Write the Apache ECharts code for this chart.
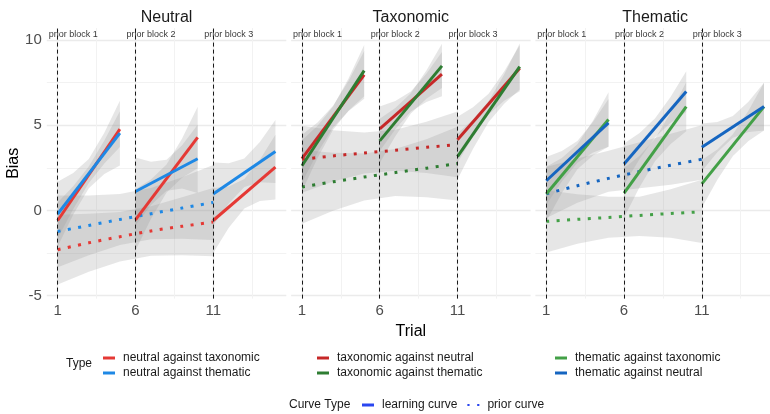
<!DOCTYPE html>
<html>
<head>
<meta charset="utf-8">
<script src="https://cdn.jsdelivr.net/npm/echarts@6/dist/echarts.min.js"></script>
<style>
  html, body { margin: 0; padding: 0; background: #ffffff; }
  #chart { width: 770px; height: 414px; }
</style>
</head>
<body>
<div id="chart"></div>
<script>
// ---- data -------------------------------------------------------------
const PANELS = ['Neutral', 'Taxonomic', 'Thematic'];
const TYPES = [
  'neutral against taxonomic', 'neutral against thematic',
  'taxonomic against neutral', 'taxonomic against thematic',
  'thematic against taxonomic', 'thematic against neutral'
];
const TYPE_PANEL = [0, 0, 1, 1, 2, 2];
const CURVE_TYPES = ['learning curve', 'prior curve'];

const BLOCK_TRIALS = [[1, 2, 3, 4, 5], [6, 7, 8, 9, 10], [11, 12, 13, 14, 15]];
const PRIOR_TRIALS = [1, 3, 5, 7, 9, 11];
const BLOCK_STARTS = [1, 6, 11];
const BLOCK_LABELS = ['prior block 1', 'prior block 2', 'prior block 3'];
const BLOCK_LABEL_POS = [[2, 10.33], [7, 10.33], [12, 10.33]];

const X_BREAKS = [1, 6, 11];
const X_MINOR = [3.5, 8.5, 13.5];
const Y_BREAKS = [-5, 0, 5, 10];
const Y_MINOR = [-2.5, 2.5, 7.5];

// learning-curve fits: [first trial, last trial] of each block
const fitNTax = [[-0.59, 4.77], [-0.55, 4.28], [-0.59, 2.54]];
const fitNThe = [[-0.21, 4.53], [1.11, 3.03], [0.96, 3.46]];
const fitTNeu = [[3.04, 7.95], [4.79, 7.99], [4.14, 8.34]];
const fitTThe = [[2.62, 8.20], [4.08, 8.48], [3.16, 8.44]];
const fitHTax = [[0.96, 5.33], [1.02, 6.09], [1.56, 6.09]];
const fitHNeu = [[1.74, 5.14], [2.72, 6.97], [3.70, 6.09]];

// confidence bands of the learning fits, per trial of each block
const bandNTaxLo = [[-1.64, 0.08, 1.61, 2.76, 3.72], [-2.35, -0.49, 1.05, 1.92, 2.48], [-2.49, -1.02, 0.12, 0.55, 0.64]];
const bandNTaxHi = [[0.46, 1.42, 2.57, 4.10, 5.82], [1.25, 1.81, 2.69, 4.22, 6.08], [1.31, 1.40, 1.84, 2.97, 4.44]];
const bandNTheLo = [[-2.11, -0.24, 1.30, 2.14, 2.63], [-0.89, 0.32, 1.16, 1.28, 1.03], [-0.89, 0.41, 1.37, 1.66, 1.61]];
const bandNTheHi = [[1.69, 2.19, 3.02, 4.56, 6.43], [3.11, 2.86, 2.98, 3.82, 5.03], [2.81, 2.77, 3.05, 4.02, 5.31]];
const bandTNeuLo = [[1.64, 3.38, 4.86, 5.83, 6.55], [3.49, 4.76, 5.80, 6.36, 6.69], [2.79, 4.33, 5.63, 6.43, 6.99]];
const bandTNeuHi = [[4.44, 5.16, 6.14, 7.61, 9.35], [6.09, 6.42, 6.98, 8.02, 9.29], [5.49, 6.05, 6.85, 8.15, 9.69]];
const bandTTheLo = [[1.12, 3.07, 4.73, 5.86, 6.70], [2.78, 4.35, 5.69, 6.55, 7.18], [1.81, 3.62, 5.19, 6.26, 7.09]];
const bandTTheHi = [[4.12, 4.97, 6.09, 7.76, 9.70], [5.38, 6.01, 6.87, 8.21, 9.78], [4.51, 5.34, 6.41, 7.98, 9.79]];
const bandHTaxLo = [[-0.64, 1.03, 2.42, 3.22, 3.73], [-0.43, 1.37, 2.90, 3.90, 4.64], [0.16, 1.80, 3.19, 4.07, 4.69]];
const bandHTaxHi = [[2.56, 3.07, 3.88, 5.26, 6.93], [2.47, 3.21, 4.22, 5.74, 7.54], [2.96, 3.58, 4.47, 5.85, 7.49]];
const bandHNeuLo = [[0.34, 1.70, 2.80, 3.40, 3.74], [1.52, 3.02, 4.30, 5.15, 5.77], [2.30, 3.41, 4.26, 4.60, 4.69]];
const bandHNeuHi = [[3.14, 3.48, 4.08, 5.18, 6.54], [3.92, 4.54, 5.40, 6.67, 8.17], [5.10, 5.19, 5.54, 6.38, 7.49]];

// prior curves with their bands, at PRIOR_TRIALS
const priorNTax = [-2.30, -1.90, -1.54, -1.20, -0.93, -0.68];
const priorNTaxLo = [-4.35, -3.60, -2.99, -2.65, -2.63, -2.68];
const priorNTaxHi = [-0.25, -0.20, -0.09, 0.25, 0.77, 1.32];
const priorNThe = [-1.23, -0.88, -0.53, -0.19, 0.14, 0.47];
const priorNTheLo = [-3.33, -2.63, -2.03, -1.69, -1.66, -1.73];
const priorNTheHi = [0.87, 0.87, 0.97, 1.31, 1.94, 2.67];
const priorTNeu = [3.00, 3.20, 3.37, 3.53, 3.70, 3.87];
const priorTNeuLo = [1.04, 1.70, 2.17, 2.33, 2.20, 1.94];
const priorTNeuHi = [4.96, 4.70, 4.57, 4.73, 5.20, 5.80];
const priorTThe = [1.38, 1.68, 1.96, 2.22, 2.48, 2.75];
const priorTTheLo = [-0.78, -0.02, 0.58, 0.84, 0.78, 0.59];
const priorTTheHi = [3.54, 3.38, 3.34, 3.60, 4.18, 4.91];
const priorHTax = [-0.64, -0.52, -0.41, -0.29, -0.18, -0.08];
const priorHTaxLo = [-2.46, -1.95, -1.60, -1.50, -1.60, -1.91];
const priorHTaxHi = [1.18, 0.95, 0.80, 0.80, 1.25, 1.80];
const priorHNeu = [0.98, 1.45, 1.88, 2.28, 2.65, 3.00];
const priorHNeuLo = [-0.45, 0.45, 1.10, 1.30, 1.50, 1.80];
const priorHNeuHi = [2.55, 3.05, 3.50, 4.00, 4.50, 5.00];

// ---- styling ----------------------------------------------------------
const TYPE_COLORS = ['#e53935', '#1e88e5', '#c62828', '#2e7d32', '#43a047', '#1565c0'];
const CURVE_COLOR = '#2a46f0';
const BAND_FILL = 'rgba(150,150,150,0.24)';
const FONT = '"Liberation Sans", Arial, Helvetica, sans-serif';
const GRID_LEFT = [46.8, 291.1, 535.4];
const GRID_TOP = 28, GRID_W = 239.5, GRID_H = 270.6;
const X_MIN = 0.3, X_MAX = 15.7, Y_MIN = -5.17, Y_MAX = 10.7;

const series = [
  { fit: fitNTax, lo: bandNTaxLo, hi: bandNTaxHi, prior: priorNTax, pLo: priorNTaxLo, pHi: priorNTaxHi },
  { fit: fitNThe, lo: bandNTheLo, hi: bandNTheHi, prior: priorNThe, pLo: priorNTheLo, pHi: priorNTheHi },
  { fit: fitTNeu, lo: bandTNeuLo, hi: bandTNeuHi, prior: priorTNeu, pLo: priorTNeuLo, pHi: priorTNeuHi },
  { fit: fitTThe, lo: bandTTheLo, hi: bandTTheHi, prior: priorTThe, pLo: priorTTheLo, pHi: priorTTheHi },
  { fit: fitHTax, lo: bandHTaxLo, hi: bandHTaxHi, prior: priorHTax, pLo: priorHTaxLo, pHi: priorHTaxHi },
  { fit: fitHNeu, lo: bandHNeuLo, hi: bandHNeuHi, prior: priorHNeu, pLo: priorHNeuLo, pHi: priorHNeuHi }
];

// ---- grids & axes -----------------------------------------------------
const grids = [], xAxes = [], yAxes = [];
PANELS.forEach((p, g) => {
  grids.push({ left: GRID_LEFT[g], top: GRID_TOP, width: GRID_W, height: GRID_H, outerBoundsMode: 'none' });
});
// major x axes (0..2), then minor x axes (3..5)
PANELS.forEach((p, g) => {
  xAxes.push({
    type: 'value', gridIndex: g, min: X_MIN, max: X_MAX,
    axisLine: { show: false },
    axisTick: { show: false, customValues: X_BREAKS },
    axisLabel: { customValues: X_BREAKS, color: '#4d4d4d', fontSize: 15, margin: 5, fontFamily: FONT },
    splitLine: { show: true, lineStyle: { color: '#ebebeb', width: 1.4 } },
    name: g === 1 ? 'Trial' : '', nameLocation: 'middle', nameGap: 14,
    nameTextStyle: { color: '#000', fontSize: 16, fontFamily: FONT }
  });
});
PANELS.forEach((p, g) => {
  xAxes.push({
    type: 'value', gridIndex: g, min: X_MIN, max: X_MAX,
    axisLine: { show: false },
    axisTick: { show: false, customValues: X_MINOR },
    axisLabel: { show: false },
    splitLine: { show: true, lineStyle: { color: '#f2f2f2', width: 1 } }
  });
});
PANELS.forEach((p, g) => {
  yAxes.push({
    type: 'value', gridIndex: g, min: Y_MIN, max: Y_MAX,
    axisLine: { show: false },
    axisTick: { show: false, customValues: Y_BREAKS },
    axisLabel: { show: g === 0, customValues: Y_BREAKS, color: '#4d4d4d', fontSize: 15, margin: 5, fontFamily: FONT },
    splitLine: { show: true, lineStyle: { color: '#ebebeb', width: 1.4 } },
    name: g === 0 ? 'Bias' : '', nameLocation: 'middle', nameGap: 24, nameRotate: 90,
    nameTextStyle: { color: '#000', fontSize: 16, fontFamily: FONT }
  });
});
PANELS.forEach((p, g) => {
  yAxes.push({
    type: 'value', gridIndex: g, min: Y_MIN, max: Y_MAX,
    axisLine: { show: false },
    axisTick: { show: false, customValues: Y_MINOR },
    axisLabel: { show: false },
    splitLine: { show: true, lineStyle: { color: '#f2f2f2', width: 1 } }
  });
});

// ---- series -----------------------------------------------------------
const chartSeries = [];

PANELS.forEach((p, g) => {
  // grey confidence bands of the panel
  const bands = [];
  series.forEach((s, t) => {
    if (TYPE_PANEL[t] !== g) return;
    bands.push({ xs: PRIOR_TRIALS, lo: s.pLo, hi: s.pHi });
    BLOCK_TRIALS.forEach((xs, b) => bands.push({ xs: xs, lo: s.lo[b], hi: s.hi[b] }));
  });
  chartSeries.push({
    type: 'custom', xAxisIndex: g, yAxisIndex: g, z: 1, silent: true,
    data: bands.map((r, i) => [r.xs[0], r.lo[0], i]),
    encode: { x: 0, y: 1 },
    renderItem: (params, api) => {
      const r = bands[params.dataIndex];
      const pts = [];
      r.xs.forEach((x, k) => pts.push(api.coord([x, r.hi[k]])));
      for (let k = r.xs.length - 1; k >= 0; k--) pts.push(api.coord([r.xs[k], r.lo[k]]));
      return { type: 'polygon', shape: { points: pts }, style: { fill: BAND_FILL } };
    }
  });

  // block separators and their labels
  chartSeries.push({
    type: 'scatter', xAxisIndex: g, yAxisIndex: g, z: 2, silent: true,
    symbolSize: 0,
    data: BLOCK_LABEL_POS.map((pos, i) => ({ value: pos, name: BLOCK_LABELS[i] })),
    label: { show: true, position: 'inside', formatter: '{b}', color: '#000', fontSize: 9, fontFamily: FONT },
    markLine: {
      silent: true, symbol: ['none', 'none'], label: { show: false },
      lineStyle: { color: '#1a1a1a', width: 1, type: [4, 3] },
      data: BLOCK_STARTS.map(x => ({ xAxis: x }))
    }
  });
});

series.forEach((s, t) => {
  const g = TYPE_PANEL[t];
  // prior curve (dotted)
  chartSeries.push({
    type: 'line', name: TYPES[t], xAxisIndex: g, yAxisIndex: g, z: 3, silent: true,
    color: TYPE_COLORS[t], symbol: 'none', smooth: 0.3,
    lineStyle: { color: TYPE_COLORS[t], width: 3, type: [3, 7.4], cap: 'butt' },
    data: PRIOR_TRIALS.map((x, k) => [x, s.prior[k]])
  });
  // learning curves (solid), one per block
  BLOCK_TRIALS.forEach((xs, b) => {
    chartSeries.push({
      type: 'line', name: TYPES[t], xAxisIndex: g, yAxisIndex: g, z: 4, silent: true,
      color: TYPE_COLORS[t], symbol: 'none',
      lineStyle: { color: TYPE_COLORS[t], width: 3 },
      data: [[xs[0], s.fit[b][0]], [xs[xs.length - 1], s.fit[b][1]]]
    });
  });
});

// curve-type keys
CURVE_TYPES.forEach(name => {
  chartSeries.push({ type: 'line', name: name, xAxisIndex: 0, yAxisIndex: 0, color: CURVE_COLOR, symbol: 'none', data: [] });
});

// ---- legends & titles -------------------------------------------------
const legendText = { color: '#1a1a1a', fontSize: 12, fontFamily: FONT, lineHeight: 12, padding: [0, 0, 0, 3] };
const legendBase = {
  orient: 'vertical', top: 352, padding: 0, itemWidth: 12, itemHeight: 3, itemGap: 3,
  icon: 'rect', selectedMode: false, textStyle: legendText, itemStyle: { borderWidth: 0 }
};
const legends = [
  Object.assign({}, legendBase, { left: 103, data: [TYPES[0], TYPES[1]] }),
  Object.assign({}, legendBase, { left: 317, data: [TYPES[2], TYPES[3]] }),
  Object.assign({}, legendBase, { left: 555, data: [TYPES[4], TYPES[5]] }),
  Object.assign({}, legendBase, {
    orient: 'horizontal', left: 362, top: 399, itemGap: 10,
    data: [
      { name: CURVE_TYPES[0], icon: 'rect' },
      { name: CURVE_TYPES[1], icon: 'path://M0,0h2v2h-2zM9,0h2v2h-2z' }
    ]
  })
];

const titleStyle = { color: '#1a1a1a', fontSize: 16, fontWeight: 'normal', fontFamily: FONT };
const titles = PANELS.map((p, g) => ({
  text: p, left: GRID_LEFT[g] + GRID_W / 2, top: 10, textAlign: 'center', padding: 0, textStyle: titleStyle
}));
titles.push({ text: 'Type', left: 66, top: 358, padding: 0,
  textStyle: { color: '#1a1a1a', fontSize: 12, fontWeight: 'normal', fontFamily: FONT } });
titles.push({ text: 'Curve Type', left: 289, top: 399, padding: 0,
  textStyle: { color: '#1a1a1a', fontSize: 12, fontWeight: 'normal', fontFamily: FONT } });

const chart = echarts.init(document.getElementById('chart'), null, { renderer: 'canvas' });
chart.setOption({
  backgroundColor: '#ffffff',
  animation: false,
  textStyle: { fontFamily: FONT },
  title: titles,
  legend: legends,
  grid: grids,
  xAxis: xAxes,
  yAxis: yAxes,
  series: chartSeries
});
</script>
</body>
</html>
